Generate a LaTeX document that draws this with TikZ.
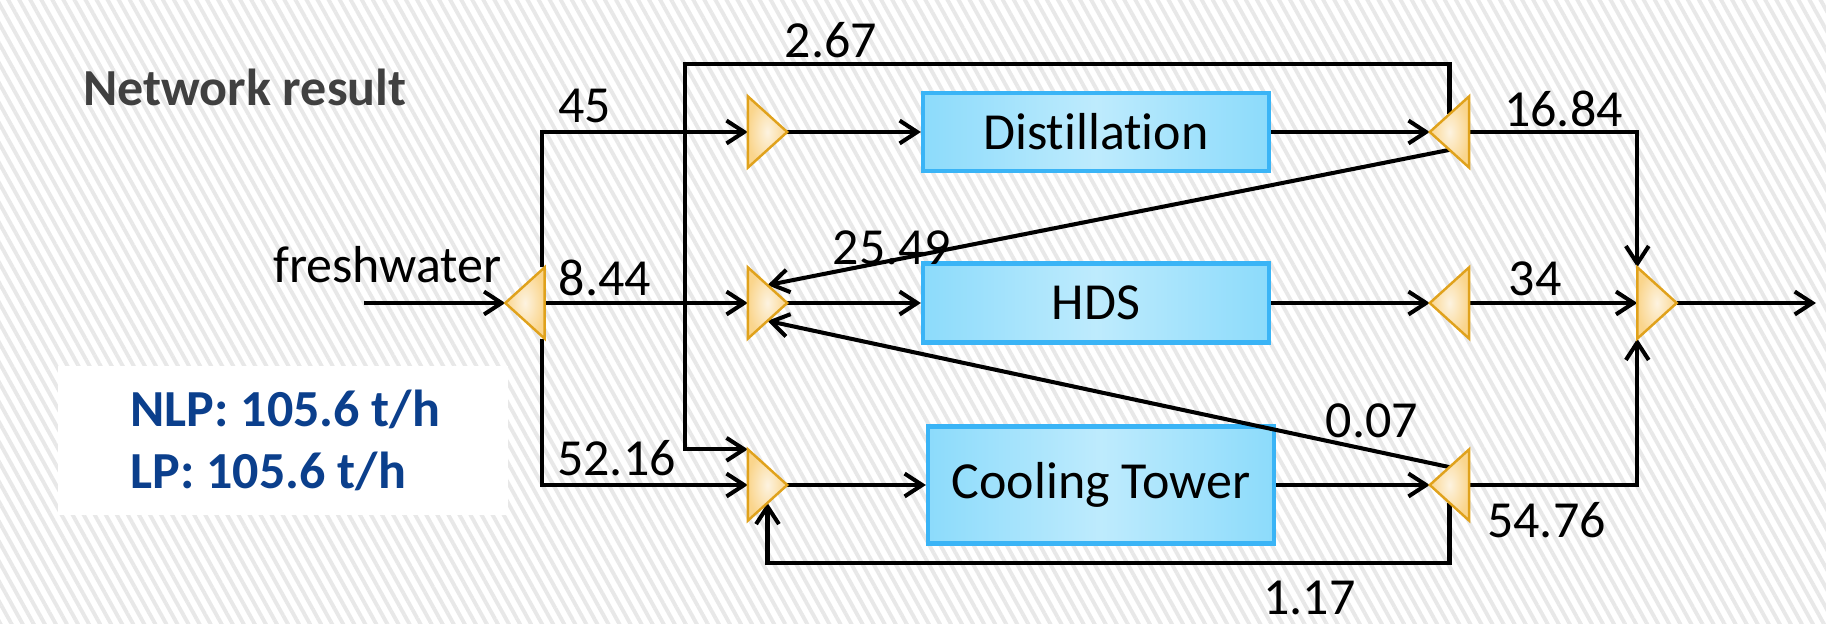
\documentclass[tikz,border=0pt]{standalone}
\usepackage{fontspec}
\setmainfont{Carlito}[Ligatures=NoCommon]
\usetikzlibrary{arrows.meta, positioning, calc, patterns.meta}
\definecolor{boxedge}{HTML}{3AB4F6}
\definecolor{boxfill}{HTML}{8CDBFB}
\definecolor{boxmid}{HTML}{BEEBFD}
\definecolor{triedge}{HTML}{E0A21C}
\definecolor{trifill}{HTML}{FAD58C}
\definecolor{trimid}{HTML}{FDF3E0}
\definecolor{resblue}{HTML}{0B3F8C}
\definecolor{headgray}{HTML}{404040}
\definecolor{stripe}{HTML}{E8E8E8}

\begin{document}
\begin{tikzpicture}[
  >={Straight Barb[length=5pt, width=6.5pt]},
  font=\fontsize{14.8}{17.8}\selectfont,
  unit/.style={
    draw=boxedge, line width=1.2pt, left color=boxfill, right color=boxfill,
    middle color=boxmid, minimum width=3.46cm, inner sep=0pt
  },
  junc/.style={minimum width=0.38cm, minimum height=0.70cm, inner sep=0pt},
  tri/.style={draw=triedge, line width=0.7pt, inner color=trimid, outer color=trifill},
  flow/.style={->, line width=1.15pt},
  val/.style={anchor=base, inner sep=0pt},
  result/.style={val, anchor=base west, text=resblue, font=\fontsize{14.8}{17.8}\selectfont\bfseries},
]

% Background
\fill[white] (0,0) rectangle (18.26,6.23);
\fill[pattern={Lines[angle=-61, distance=2.75pt, line width=1.1pt]}, pattern color=stripe]
  (0,0) rectangle (18.26,6.23);
\useasboundingbox (0,0) rectangle (18.26,6.23);
\fill[white] (0.58,1.08) rectangle (5.08,2.57);

% Titles
\node[val, text=headgray, font=\fontsize{14.8}{17.8}\selectfont\bfseries] (title) at (2.45,5.17) {Network result};
\node[result] (nlp) at (1.30,1.97) {NLP: 105.6 t/h};
\node[result] (lp)  at (1.30,1.34) {LP: 105.6 t/h};

% Mixers and splitters
\node[junc] (s0) at (5.25,3.20)   {};
\node[junc] (m1) at (7.675,4.91)  {};
\node[junc] (m2) at (7.675,3.20)  {};
\node[junc] (m3) at (7.675,1.38)  {};
\node[junc] (s1) at (14.495,4.91) {};
\node[junc] (s2) at (14.495,3.20) {};
\node[junc] (s3) at (14.495,1.38) {};
\node[junc] (m4) at (16.57,3.20)  {};

% Units
\node[unit, minimum height=0.78cm] (dist) at (10.96,4.91) {Distillation};
\node[unit, minimum height=0.79cm] (hds)  at (10.96,3.20) {HDS};
\node[unit, minimum height=1.17cm] (cool) at (11.01,1.38) {Cooling Tower};

% Stream values
\node[val] (fresh) at (3.875,3.40)  {freshwater};
\node[val] (v45)   at (5.845,5.01)  {45};
\node[val] (v844)  at (6.05,3.28)   {8.44};
\node[val] (v5216) at (6.165,1.48)  {52.16};
\node[val] (v267)  at (8.31,5.65)   {2.67};
\node[val] (v2549) at (8.92,3.58)   {25.49};
\node[val] (v1684) at (15.635,4.96) {16.84};
\node[val] (v34)   at (15.35,3.28)  {34};
\node[val] (v007)  at (13.72,1.86)  {0.07};
\node[val] (v5476) at (15.465,0.86) {54.76};
\node[val] (v117)  at (13.095,0.09) {1.17};

% Edge points
\coordinate (in)      at (3.64,3.20);
\coordinate (out)     at (18.16,3.20);
\coordinate (loopTop) at (6.85,5.59);
\coordinate (s1up) at ($(s1.west)!0.5!(s1.north east)$);
\coordinate (s1dn) at ($(s1.west)!0.5!(s1.south east)$);
\coordinate (s3up) at ($(s3.west)!0.5!(s3.north east)$);
\coordinate (s3dn) at ($(s3.west)!0.5!(s3.south east)$);
\coordinate (m2up) at ($(m2.east)!0.5!(m2.north west)$);
\coordinate (m2dn) at ($(m2.east)!0.5!(m2.south west)$);
\coordinate (m3dn) at ($(m3.east)!0.5!(m3.south west)$);

% Freshwater
\draw[flow] (in) -- (s0);
\draw[flow] ([xshift=-0.3mm]s0.north east) |- (m1.west);
\draw[flow] (s0.east) -- (m2.west);
\draw[flow] ([xshift=-0.3mm]s0.south east) |- (m3.west);

% Through units
\draw[flow] (m1) -- (dist);
\draw[flow] (m2) -- (hds);
\draw[flow] (m3) -- (cool);
\draw[flow] (dist) -- (s1);
\draw[flow] (hds) -- (s2);
\draw[flow] (cool) -- (s3);

% To discharge
\draw[flow] (s1.east) -| (m4.north west);
\draw[flow] (s2) -- (m4);
\draw[flow] (s3.east) -| (m4.south west);
\draw[flow] (m4) -- (out);

% Reuse
\draw[flow] (s1up) |- (loopTop) |- (m3.north west);
\draw[flow] (s1dn) -- (m2up);
\draw[flow] (s3up) -- (m2dn);
\draw[flow] (s3dn) -- ++(0,-0.605) -| (m3dn);

% Triangles
\foreach \j in {m1,m2,m3,m4}
  \shadedraw[tri] (\j.north west) -- (\j.east) -- (\j.south west) -- cycle;
\foreach \j in {s0,s1,s2,s3}
  \shadedraw[tri] (\j.north east) -- (\j.west) -- (\j.south east) -- cycle;

\end{tikzpicture}
\end{document}
